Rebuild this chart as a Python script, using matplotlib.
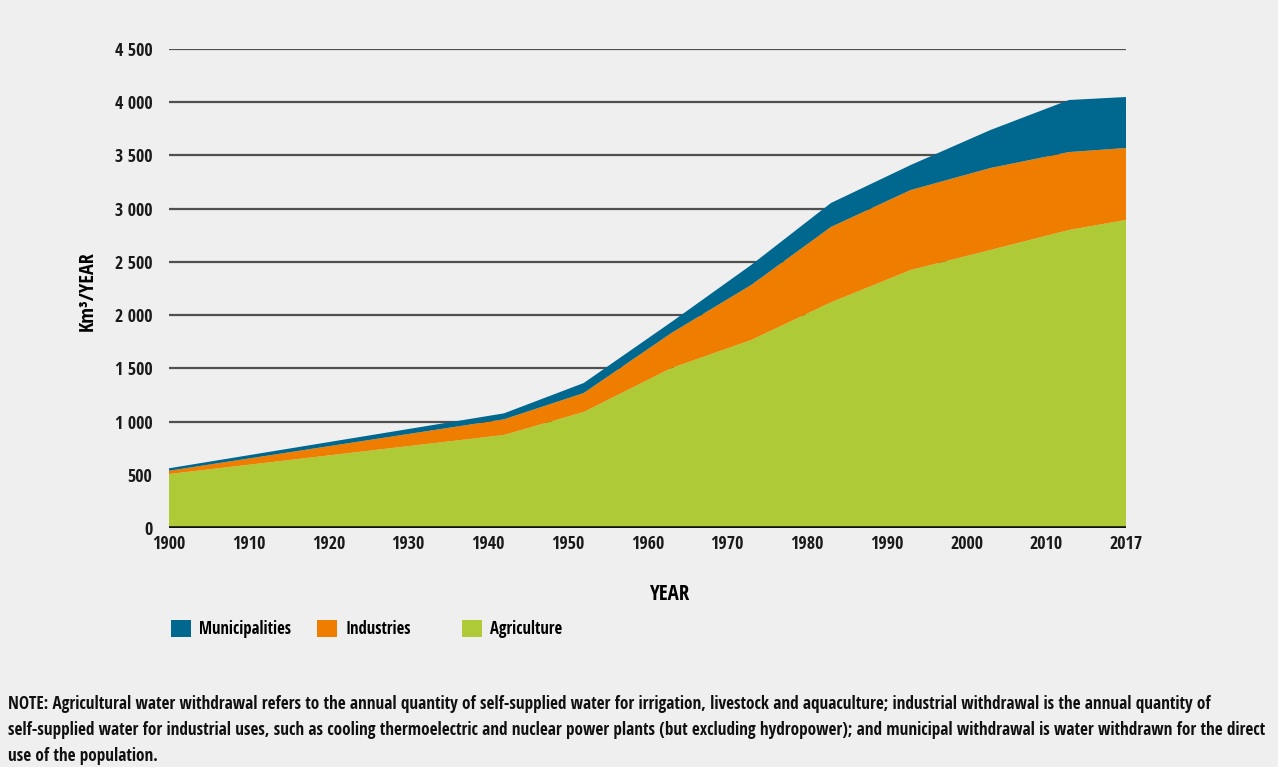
import numpy as np
import matplotlib
matplotlib.use("Agg")
import matplotlib.pyplot as plt
from matplotlib.patches import Patch
from matplotlib import font_manager

# a narrow face if one is installed, DejaVu otherwise
names = {f.name for f in font_manager.fontManager.ttflist}
narrow = [n for n in ['Liberation Sans Narrow', 'Open Sans Condensed', 'Roboto Condensed', 'DejaVu Sans Condensed']
          if n in names]
plt.rcParams['font.family'] = narrow + ['DejaVu Sans']
plt.rcParams['font.stretch'] = 'condensed'

# axis categories (evenly spaced on the chart)
tick_years = [1900, 1910, 1920, 1930, 1940, 1950, 1960, 1970, 1980, 1990, 2000, 2010, 2017]
yticks = [0, 500, 1000, 1500, 2000, 2500, 3000, 3500, 4000, 4500]

# km3/year
years = [1900, 1942, 1952, 1963, 1973, 1983, 1993, 2003, 2012, 2017]
agriculture = [507, 874, 1090, 1503, 1766, 2120, 2424, 2612, 2800, 2894]
industries = [31, 147, 178, 329, 517, 708, 751, 770, 732, 676]
municipalities = [23, 56, 94, 103, 188, 225, 235, 357, 489, 479]

labels = ['Municipalities', 'Industries', 'Agriculture']
colors = {'Municipalities': '#00678f', 'Industries': '#ee7d00', 'Agriculture': '#afca37'}

note = ("NOTE: Agricultural water withdrawal refers to the annual quantity of self-supplied water for irrigation, "
        "livestock and aquaculture; industrial withdrawal is the annual quantity of\n"
        "self-supplied water for industrial uses, such as cooling thermoelectric and nuclear power plants "
        "(but excluding hydropower); and municipal withdrawal is water withdrawn for the direct\n"
        "use of the population.")

W, H = 1278, 767
bg = '#efefef'
fig = plt.figure(figsize=(W/100, H/100), dpi=100, facecolor=bg)
ax = fig.add_axes([169/W, 1-528/H, (1126-169)/W, 479/H])
ax.set_facecolor(bg)

# position of each year on the categorical axis
pos = np.interp(years, tick_years, np.arange(len(tick_years)))

ax.stackplot(pos, agriculture, industries, municipalities,
             colors=[colors['Agriculture'], colors['Industries'], colors['Municipalities']],
             linewidth=0, zorder=2)

ax.set_xlim(0, len(tick_years) - 1)
ax.set_ylim(0, 4500)
ax.set_xticks(np.arange(len(tick_years)))
ax.set_xticklabels([str(y) for y in tick_years])
ax.set_yticks(yticks)
ax.set_yticklabels([f"{v:,}".replace(",", " ") for v in yticks])
ax.tick_params(length=0, labelsize=13)
ax.tick_params(axis='y', pad=12)
ax.tick_params(axis='x', pad=5)
for lab in ax.get_xticklabels() + ax.get_yticklabels():
    lab.set_fontweight('bold')
    lab.set_color('#1a1a1a')

for s in ax.spines.values():
    s.set_visible(False)
ax.yaxis.grid(True, color='#505050', linewidth=1.6, zorder=1)
ax.set_axisbelow(True)
ax.axhline(0, color='#111111', linewidth=2.6, zorder=3)

ax.set_ylabel('Km³/YEAR', fontsize=14.5, fontweight='bold', va='center')
ax.yaxis.set_label_coords(-0.0846, 0.495)
ax.set_xlabel('YEAR', fontsize=15, fontweight='bold', va='center')
ax.xaxis.set_label_coords(0.523, -0.138)

# legend entries sit at fixed steps, one legend per entry
for lab, x0 in zip(labels, [171, 317, 462]):
    fig.legend([Patch(facecolor=colors[lab], edgecolor='none')], [lab],
               loc='center left', bbox_to_anchor=(x0/W, 1-629/H), frameon=False,
               fontsize=12, handlelength=1.2, handleheight=1.2, handletextpad=0.5,
               borderaxespad=0, borderpad=0)

txt = fig.text(8/W, 1-695/H, note, fontsize=12.5, va='top', ha='left',
               linespacing=1.55, color='#111111')
# shrink the note until its widest line spans the same width as in the reference
fig.canvas.draw()
w = txt.get_window_extent().width
if w > 1254:
    txt.set_fontsize(12.5 * 1254 / w)
    txt.set_linespacing(1.55 * w / 1254)

fig.savefig('out.png', dpi=100, facecolor=bg)
